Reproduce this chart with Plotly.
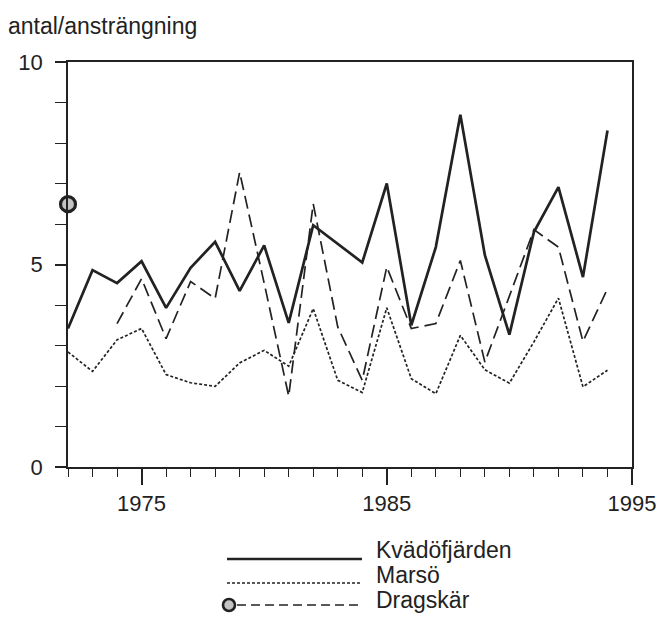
import plotly.graph_objects as go

# ---- data ----
years = list(range(1972, 1995))
kvadofjarden = [3.42, 4.86, 4.54, 5.08, 3.93, 4.92, 5.56, 4.35, 5.47, 3.56, 5.97, 5.51,
                5.05, 7.0, 3.5, 5.43, 8.7, 5.23, 3.27, 5.8, 6.91, 4.69, 8.31]
marso = [2.84, 2.36, 3.14, 3.42, 2.28, 2.08, 1.99, 2.57, 2.88, 2.49, 3.91, 2.14,
         1.84, 3.93, 2.18, 1.81, 3.25, 2.40, 2.07, 3.09, 4.17, 1.98, 2.39]
dragskar = [None, None, 3.54, 4.65, 3.17, 4.58, 4.16, 7.28, 4.54, 1.75, 6.5, 3.46,
            2.14, 4.94, 3.42, 3.54, 5.10, 2.59, 4.22, 5.86, 5.43, 3.10, 4.40]
dragskar_single_year = [1972]
dragskar_single_value = [6.49]

series_names = ["Kvädöfjärden", "Marsö", "Dragskär"]
x_tick_labels = [1975, 1985, 1995]
y_tick_labels = [0, 5, 10]
y_title = "antal/ansträngning"

# ---- style ----
INK = "#222222"
FONT = "Liberation Sans, Arial, Helvetica, sans-serif"
FS = 23
W, H = 658, 617
L, R, T, B = 68, 26, 62, 150
PW, PH = W - L - R, H - T - B


def px(x):
    return (x - L) / PW


def py(y):
    return (H - B - y) / PH


fig = go.Figure()
fig.add_trace(go.Scatter(x=years, y=kvadofjarden, mode="lines", name=series_names[0],
                         line=dict(color=INK, width=2.7)))
fig.add_trace(go.Scatter(x=years, y=marso, mode="lines", name=series_names[1],
                         line=dict(color=INK, width=1.7, dash="3px,2px")))
fig.add_trace(go.Scatter(x=years, y=dragskar, mode="lines", name=series_names[2],
                         line=dict(color=INK, width=1.7, dash="13px,6px")))
fig.add_trace(go.Scatter(x=dragskar_single_year, y=dragskar_single_value, mode="markers",
                         name=series_names[2], cliponaxis=False,
                         marker=dict(symbol="circle", size=15, color="#c4c4c4",
                                     line=dict(color=INK, width=3.2))))

# legend drawn as keys + labels
shapes = []
annotations = []
rows = [(559, 550, "solid", 2.7), (583, 575, "3px,2px", 1.7), (605, 600, "9px,5px", 1.7)]
for i, (ly, ty, dash, lw) in enumerate(rows):
    x0 = 227 if i < 2 else 237
    shapes.append(dict(type="line", xref="paper", yref="paper",
                       x0=px(x0), x1=px(362), y0=py(ly), y1=py(ly),
                       line=dict(color=INK, width=lw, dash=dash)))
    annotations.append(dict(text=series_names[i], xref="paper", yref="paper",
                            x=px(374), y=py(ty), xanchor="left", yanchor="middle",
                            showarrow=False, font=dict(family=FONT, size=FS, color=INK)))
shapes.append(dict(type="circle", xref="paper", yref="paper",
                   xsizemode="pixel", ysizemode="pixel",
                   xanchor=px(229), yanchor=py(605), x0=-6, x1=6, y0=-6, y1=6,
                   fillcolor="#c4c4c4", line=dict(color=INK, width=2.6)))

annotations.append(dict(text=y_title, xref="paper", yref="paper", x=px(6), y=py(26),
                        xanchor="left", yanchor="middle", showarrow=False,
                        font=dict(family=FONT, size=FS, color=INK)))

fig.update_layout(
    width=W, height=H, autosize=False,
    margin=dict(l=L, r=R, t=T, b=B, pad=0, autoexpand=False),
    paper_bgcolor="white", plot_bgcolor="white",
    showlegend=False,
    font=dict(family=FONT, size=FS, color=INK),
    shapes=shapes, annotations=annotations,
    xaxis=dict(range=[1972, 1995], showgrid=False, zeroline=False, automargin=False,
               showline=True, linecolor=INK, linewidth=1.6, mirror=True,
               tickmode="array", tickvals=x_tick_labels,
               ticktext=[str(v) for v in x_tick_labels],
               ticks="outside", ticklen=16, tickwidth=1.6, tickcolor=INK,
               ticklabelstandoff=0, ticklabeloverflow="allow",
               minor=dict(tickmode="array", tickvals=years + [1995], ticks="outside",
                          ticklen=8, tickwidth=1.4, tickcolor=INK),
               tickfont=dict(family=FONT, size=22, color=INK)),
    yaxis=dict(range=[0, 10], showgrid=False, zeroline=False, automargin=False,
               showline=True, linecolor=INK, linewidth=1.6, mirror=True,
               tickmode="array", tickvals=y_tick_labels,
               ticktext=[str(v) for v in y_tick_labels],
               ticks="outside", ticklen=11, tickwidth=1.6, tickcolor=INK,
               ticklabelstandoff=8,
               minor=dict(tickmode="array", tickvals=list(range(0, 11)), ticks="outside",
                          ticklen=11, tickwidth=1.4, tickcolor=INK),
               tickfont=dict(family=FONT, size=22, color=INK)),
)

fig.write_html("out.html")
